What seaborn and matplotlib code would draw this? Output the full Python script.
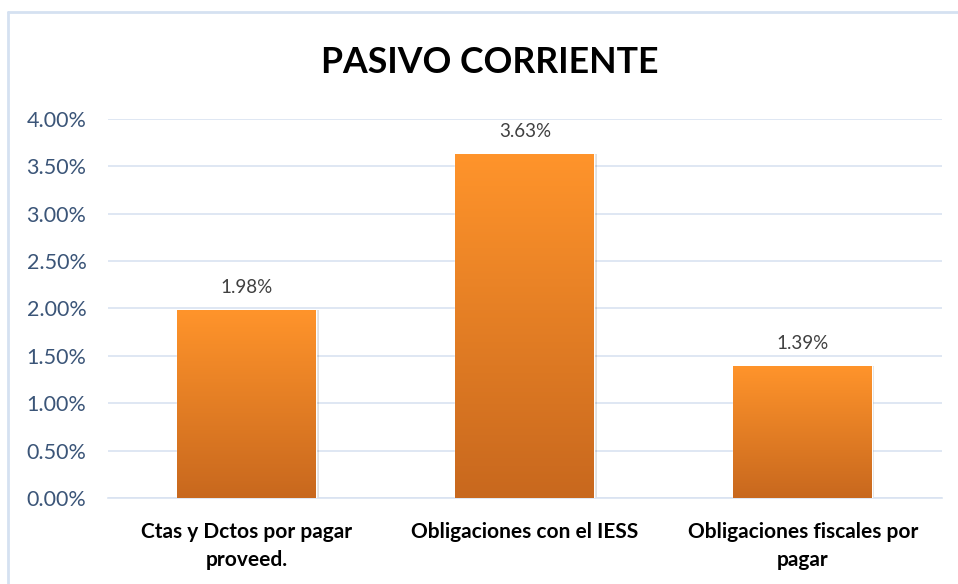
import numpy as np
import pandas as pd
import matplotlib
matplotlib.use("Agg")
import matplotlib.pyplot as plt
import matplotlib.colors as mcolors
from matplotlib.lines import Line2D
from matplotlib.ticker import FuncFormatter
import seaborn as sns

# ── DATA ─────────────────────────────────────────────
categories = ["Ctas y Dctos por pagar\nproveed.",
              "Obligaciones con el IESS",
              "Obligaciones fiscales por\npagar"]
values = [1.98, 3.63, 1.39]          # percent
y_ticks = [0.0, 0.5, 1.0, 1.5, 2.0, 2.5, 3.0, 3.5, 4.0]

df = pd.DataFrame({"cat": categories, "val": values})

sns.set_theme(style="white")
plt.rcParams["font.family"] = ["Lato", "DejaVu Sans"]

fig = plt.figure(figsize=(9.58, 5.84), dpi=100)
ax = fig.add_axes([0.1127, 0.1473, 0.8703, 0.6490])

sns.barplot(data=df, x="cat", y="val", width=0.5, color="#F08C2A",
            ax=ax, zorder=3)

# gradient fill on each bar
grad = mcolors.LinearSegmentedColormap.from_list("g", ["#C8681E", "#FF942B"])
gimg = np.linspace(0, 1, 256).reshape(-1, 1)
for p in ax.patches:
    x0, y0 = p.get_x(), p.get_y()
    w, h = p.get_width(), p.get_height()
    # soft shadow
    sh = plt.Rectangle((x0 + 0.008, y0), w, h, facecolor="#000000",
                       alpha=0.12, edgecolor="none", zorder=2)
    ax.add_patch(sh)
    im = ax.imshow(gimg, cmap=grad, aspect="auto", origin="lower",
                   extent=(x0, x0 + w, y0, y0 + h), zorder=4)
    im.set_clip_path(p)

for p, v in zip(ax.patches, values):
    ax.text(p.get_x() + p.get_width() / 2, v + 0.15, f"{v:.2f}%",
            ha="center", va="bottom", fontsize=13.5, color="#404040", zorder=5)

ax.set_xlim(-0.5, 2.5)
ax.set_ylim(0, 4.0)
ax.set_yticks(y_ticks)
ax.yaxis.set_major_formatter(FuncFormatter(lambda v, _: f"{v:.2f}%"))
ax.grid(axis="y", color="#D9E3F1", linewidth=1.2, zorder=0)
ax.set_axisbelow(True)
for s in ["top", "right", "left"]:
    ax.spines[s].set_visible(False)
ax.spines["bottom"].set_color("#D9E3F1")
ax.spines["bottom"].set_linewidth(1.2)
ax.tick_params(axis="y", labelsize=15.5, labelcolor="#3B5578", length=0, pad=15.5)
ax.tick_params(axis="x", labelsize=15, labelcolor="black", length=0, pad=17)
for lbl in ax.get_xticklabels():
    lbl.set_fontweight("bold")
    lbl.set_multialignment("center")
    lbl.set_linespacing(1.55)
ax.set_xlabel("")
ax.set_ylabel("")

fig.text(0.5115, 0.893, "PASIVO CORRIENTE", ha="center", va="center",
         fontsize=25.7, fontweight="bold", color="black")

# chart frame
fig.add_artist(Line2D([8 / 958, 1], [1 - 12 / 584, 1 - 12 / 584],
                      transform=fig.transFigure, color="#D5E1F1", linewidth=2))
fig.add_artist(Line2D([8 / 958, 8 / 958], [0, 1 - 12 / 584],
                      transform=fig.transFigure, color="#D5E1F1", linewidth=2))

plt.savefig("out.png", dpi=100)
